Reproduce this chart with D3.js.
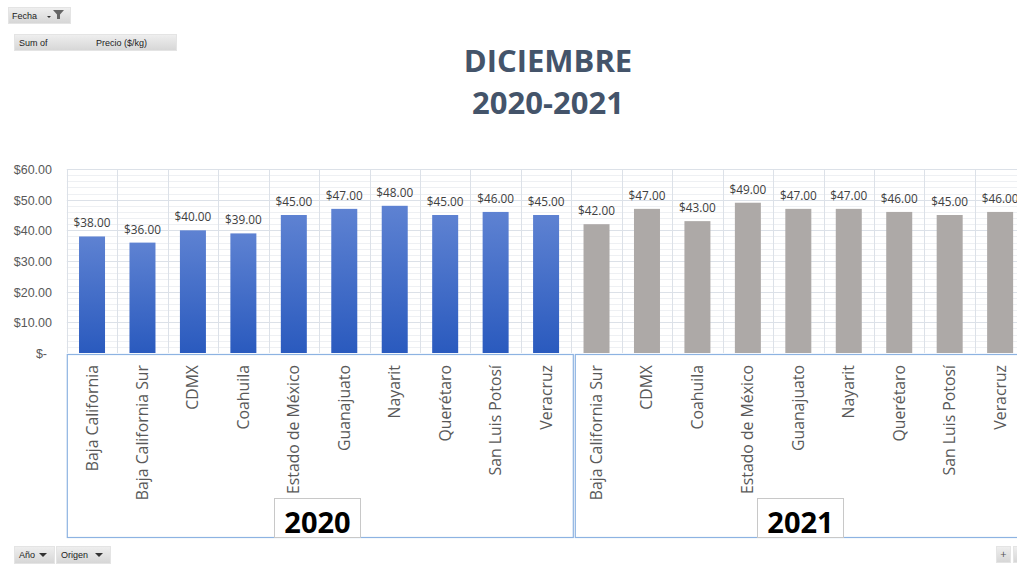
<!DOCTYPE html>
<html><head><meta charset="utf-8">
<script src="https://cdn.jsdelivr.net/npm/d3@7"></script>
<style>body{margin:0;background:#fff}svg{display:block;font-family:"Open Sans",sans-serif}</style>
</head><body>
<script>
const years = ["2020", "2021"];
const categories2020 = ["Baja California","Baja California Sur","CDMX","Coahuila","Estado de México","Guanajuato","Nayarit","Querétaro","San Luis Potosí","Veracruz"];
const values2020 = [38,36,40,39,45,47,48,45,46,45];
const categories2021 = ["Baja California Sur","CDMX","Coahuila","Estado de México","Guanajuato","Nayarit","Querétaro","San Luis Potosí","Veracruz"];
const values2021 = [42,47,43,49,47,47,46,45,46];
const yTicks = [0,10,20,30,40,50,60];
const titleLines = ["DICIEMBRE","2020-2021"];

const W = 1017, H = 564;
const rows = [];
categories2020.forEach((c,i)=>rows.push({key:"2020|"+c, cat:c, year:"2020", v:values2020[i]}));
categories2021.forEach((c,i)=>rows.push({key:"2021|"+c, cat:c, year:"2021", v:values2021[i]}));

const svg = d3.select("body").append("svg").attr("width",W).attr("height",H);
const defs = svg.append("defs");
const gb = defs.append("linearGradient").attr("id","blueGrad").attr("x1",0).attr("y1",0).attr("x2",0).attr("y2",1);
gb.append("stop").attr("offset","0%").attr("stop-color","#5E82D2");
gb.append("stop").attr("offset","100%").attr("stop-color","#2A5ABE");
const gbtn = defs.append("linearGradient").attr("id","btnGrad").attr("x1",0).attr("y1",0).attr("x2",0).attr("y2",1);
gbtn.append("stop").attr("offset","0%").attr("stop-color","#EFEFEF");
gbtn.append("stop").attr("offset","100%").attr("stop-color","#D6D6D6");

const step = 50.45, x0 = 66.8;
const padIn = 1 - 26/step, padOut = padIn/2;
const x = d3.scaleBand().domain(rows.map(d=>d.key)).range([x0, x0+rows.length*step]).paddingInner(padIn).paddingOuter(padOut);
const y = d3.scaleLinear().domain([0,60]).range([353,169]);
const bound = d => x(d.key) - step*padOut;

// minor gridlines
svg.append("g").selectAll("line").data(d3.range(0,61,2).filter(v=>v%10!==0)).join("line")
  .attr("x1",x0).attr("x2",W).attr("y1",d=>Math.round(y(d))+0.5).attr("y2",d=>Math.round(y(d))+0.5)
  .attr("stroke","#EEF0F3").attr("stroke-width",1);
// major gridlines
svg.append("g").selectAll("line").data(yTicks.filter(v=>v>0)).join("line")
  .attr("x1",x0).attr("x2",W).attr("y1",d=>Math.round(y(d))+0.5).attr("y2",d=>Math.round(y(d))+0.5)
  .attr("stroke","#DCE1E8").attr("stroke-width",1);
// vertical gridlines at category boundaries
svg.append("g").selectAll("line").data(rows).join("line")
  .attr("x1",d=>Math.round(bound(d))+0.5).attr("x2",d=>Math.round(bound(d))+0.5)
  .attr("y1",y(60)).attr("y2",y(0)).attr("stroke","#DCE1E8");

// y axis
const yAxis = d3.axisLeft(y).tickValues(yTicks).tickSize(0).tickPadding(0)
  .tickFormat(d=> d===0 ? "$-" : "$"+d3.format(".2f")(d));
const ya = svg.append("g").attr("transform","translate(52,0)").call(yAxis);
ya.select(".domain").remove();
ya.selectAll("text").attr("fill","#595959").attr("font-size","12.5px").attr("dy","0.35em")
  .attr("dx",d=>d===0?-5:0);

// bars
svg.append("g").selectAll("rect").data(rows).join("rect")
  .attr("x",d=>x(d.key)).attr("width",x.bandwidth())
  .attr("y",d=>y(d.v)).attr("height",d=>y(0)-y(d.v))
  .attr("fill",d=>d.year==="2020"?"url(#blueGrad)":"#ADA9A7");

// data labels
svg.append("g").selectAll("text").data(rows).join("text")
  .attr("x",d=>x(d.key)+x.bandwidth()/2).attr("y",d=>y(d.v)-9)
  .attr("text-anchor","middle").attr("font-size","11.8px").attr("fill","#404040")
  .text(d=>"$"+d3.format(".2f")(d.v));

// category labels
svg.append("g").selectAll("text").data(rows).join("text")
  .attr("transform",d=>`translate(${x(d.key)+x.bandwidth()/2+5.5},365) rotate(-90)`)
  .attr("text-anchor","end").attr("font-size","15.8px").attr("fill","#595959")
  .text(d=>d.cat);

// group boxes
const boxColor = "#8DB3E2";
const groupExtent = years.map(yr=>{
  const ks = rows.filter(r=>r.year===yr);
  return {yr, x1: bound(ks[0]), x2: bound(ks[ks.length-1]) + step};
});
svg.append("g").selectAll("rect").data(groupExtent).join("rect")
  .attr("x",(d,i)=>i===0?d.x1+0.5:d.x1+4).attr("y",354.5)
  .attr("width",(d,i)=>i===0?d.x2-d.x1+1.5:d.x2-d.x1).attr("height",183)
  .attr("fill","none").attr("stroke",boxColor).attr("stroke-width",1.2);

// year label boxes
const yb = svg.append("g").selectAll("g").data(groupExtent).join("g");
yb.append("rect").attr("x",(d,i)=>i===0?274.5:757.5).attr("y",498.5).attr("width",86).attr("height",39)
  .attr("fill","#fff").attr("stroke","#C8C8C8");
yb.append("text").attr("x",(d,i)=>i===0?317.5:800.5).attr("y",532.5).attr("text-anchor","middle")
  .attr("font-size","29px").attr("font-weight","bold").attr("fill","#000").text(d=>d.yr);

// title
svg.append("g").selectAll("text").data(titleLines).join("text")
  .attr("x",548).attr("y",(d,i)=>72+i*41.5).attr("text-anchor","middle")
  .attr("font-size","31px").attr("font-weight","bold").attr("fill","#44546A").text(d=>d);

// pivot buttons
function button(bx,by,bw,bh,parts){
  const g = svg.append("g");
  g.append("rect").attr("x",bx+0.5).attr("y",by+0.5).attr("width",bw).attr("height",bh)
    .attr("fill","url(#btnGrad)").attr("stroke","#E4E4E4");
  parts.forEach(p=>g.append("text").attr("x",p[0]).attr("y",by+bh/2+3.5).attr("font-size","9px")
    .attr("fill","#222").attr("font-family","Liberation Sans, sans-serif").text(p[1]));
  return g;
}
const fb = button(8,7,62,16,[[12,"Fecha"]]);
fb.append("path").attr("d","M47,16 l4,0 l-2,2 z").attr("fill","#333");
fb.append("path").attr("d","M53,10 l11,0 l-4,4.5 l0,4.5 l-3,0 l0,-4.5 z").attr("fill","#666");
button(14,34,162,16,[[19,"Sum of"],[96,"Precio ($/kg)"]]);
const ab = button(14,546,40,17,[[19,"Año"]]);
ab.append("path").attr("d","M39,553 l8,0 l-4,4 z").attr("fill","#333");
const ob = button(56,546,54,17,[[61,"Origen"]]);
ob.append("path").attr("d","M95,553 l8,0 l-4,4 z").attr("fill","#333");
const pb = svg.append("g");
pb.append("rect").attr("x",996.5).attr("y",546.5).attr("width",14).attr("height",16).attr("fill","url(#btnGrad)").attr("stroke","#E4E4E4");
pb.append("text").attr("x",1003.5).attr("y",558).attr("text-anchor","middle").attr("font-size","11px").attr("fill","#555").text("+");
pb.append("rect").attr("x",1013.5).attr("y",546.5).attr("width",14).attr("height",16).attr("fill","url(#btnGrad)").attr("stroke","#E4E4E4");
</script>
</body></html>
